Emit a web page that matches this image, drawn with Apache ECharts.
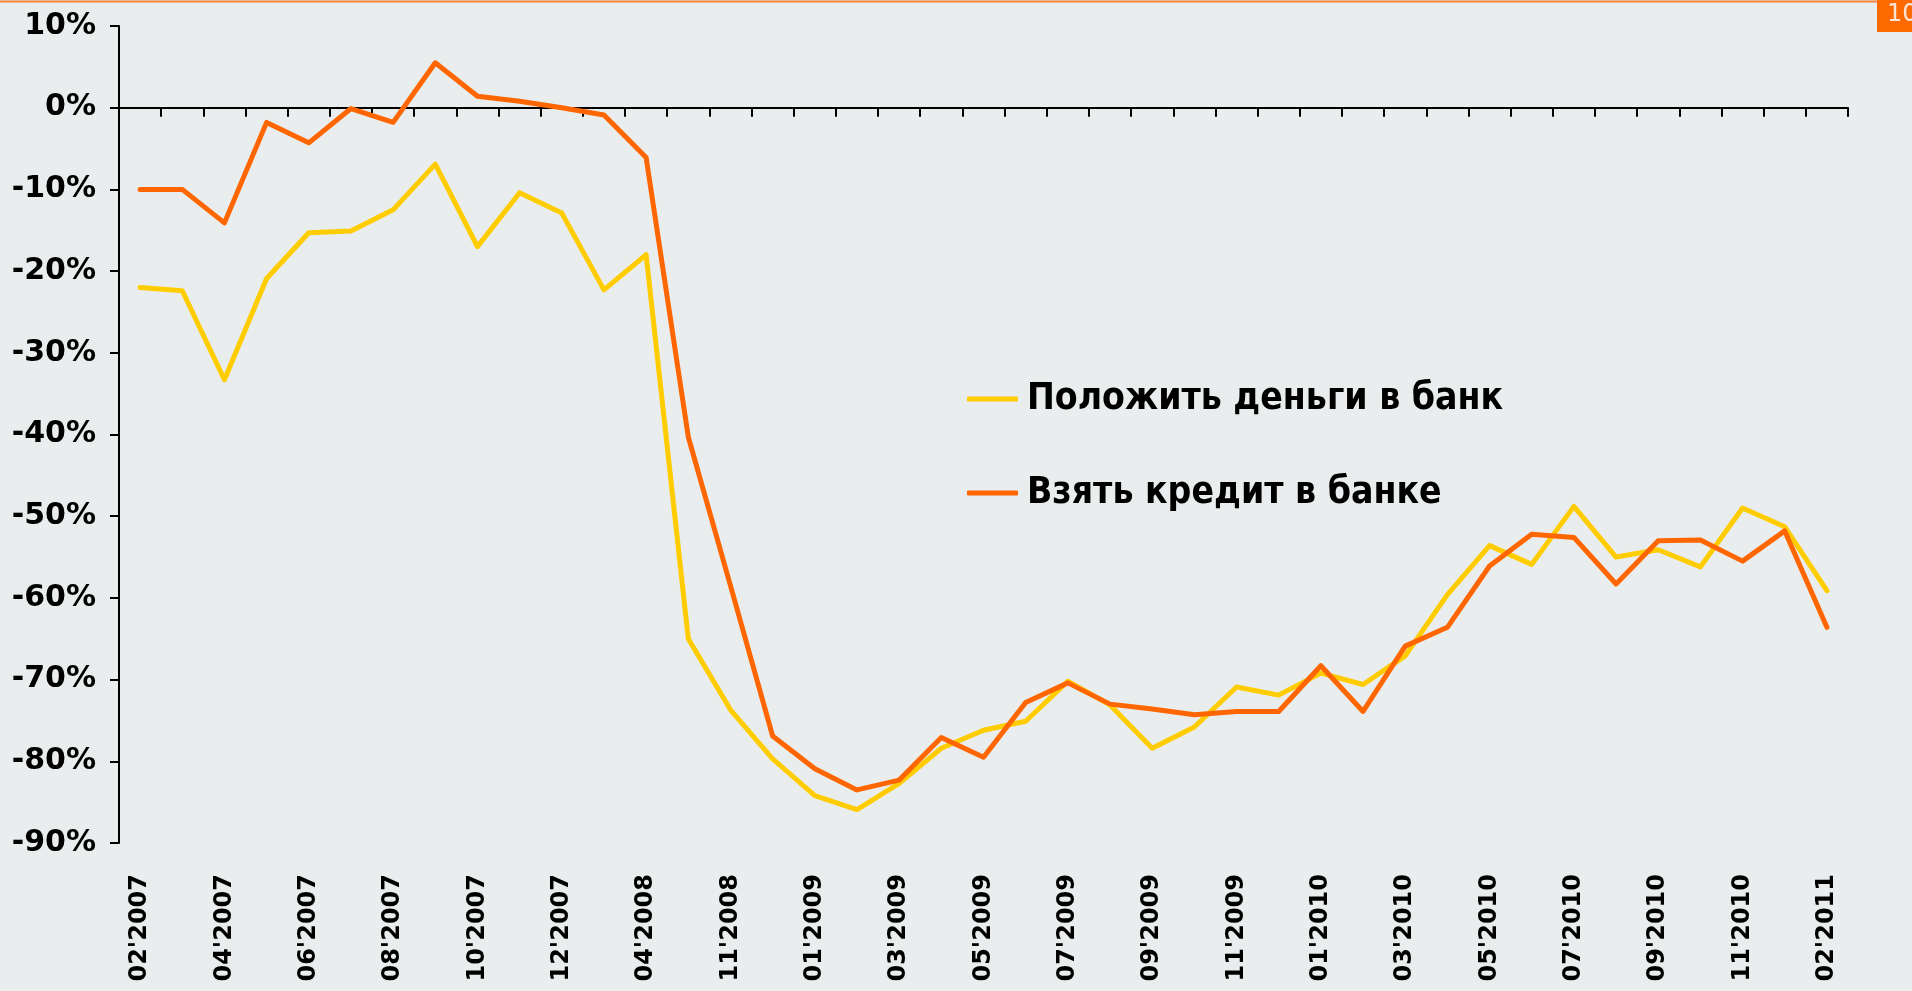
<!DOCTYPE html>
<html lang="ru">
<head>
    <meta charset="utf-8">
    <title>Положить деньги / взять кредит</title>
    <script src="https://cdn.jsdelivr.net/npm/echarts@6.0.0/dist/echarts.min.js"></script>
    <style type="text/css">
    html, body {
        margin: 0;
        padding: 0;
        background: #e9eded;
    }

    #chart {
        width: 1912px;
        height: 991px;
    }
    </style>
</head>
<body>
    <div id="chart"></div>
    <script type="text/javascript">
    // месяцы опроса (подписаны через один)
    var months = [
        "02'2007", "03'2007", "04'2007", "05'2007", "06'2007", "07'2007",
        "08'2007", "09'2007", "10'2007", "11'2007", "12'2007", "02'2008",
        "04'2008", "08'2008", "11'2008", "12'2008", "01'2009", "02'2009",
        "03'2009", "04'2009", "05'2009", "06'2009", "07'2009", "08'2009",
        "09'2009", "10'2009", "11'2009", "12'2009", "01'2010", "02'2010",
        "03'2010", "04'2010", "05'2010", "06'2010", "07'2010", "08'2010",
        "09'2010", "10'2010", "11'2010", "12'2010", "02'2011"
    ];

    var depositName = 'Положить деньги в банк';
    var creditName = 'Взять кредит в банке';

    // баланс ответов, %
    var deposit = [
        -22.0, -22.4, -33.3, -20.9, -15.3, -15.1, -12.5, -6.9, -17.0, -10.4,
        -12.9, -22.3, -18.0, -65.0, -73.7, -79.7, -84.2, -85.9, -82.7, -78.4,
        -76.2, -75.1, -70.2, -73.1, -78.4, -75.8, -70.9, -71.9, -69.2, -70.6,
        -67.1, -59.6, -53.6, -55.9, -48.8, -55.0, -54.1, -56.2, -49.0, -51.3,
        -59.1
    ];
    var credit = [
        -10.0, -10.0, -14.1, -1.8, -4.3, -0.1, -1.8, 5.5, 1.4, 0.8,
        0.0, -0.9, -6.1, -40.3, -58.5, -76.9, -80.9, -83.5, -82.3, -77.1,
        -79.5, -72.8, -70.4, -73.0, -73.6, -74.3, -73.9, -73.9, -68.3, -73.9,
        -65.9, -63.6, -56.1, -52.2, -52.6, -58.3, -53.0, -52.9, -55.5, -51.8,
        -63.6
    ];

    var yMin = -90, yMax = 10, yStep = 10;

    var chart = echarts.init(document.getElementById('chart'), null, { renderer: 'canvas' });

    var boldFont = {
        fontFamily: 'DejaVu Sans',
        fontWeight: 'bold',
        color: '#000'
    };

    chart.setOption({
        backgroundColor: '#e9eded',
        animation: false,
        grid: { left: 119, right: 64, top: 26, bottom: 148 },
        legend: {
            orient: 'vertical',
            left: 962,
            top: 372,
            itemWidth: 51,
            itemHeight: 5,
            itemGap: 50,
            icon: 'roundRect',
            data: [depositName, creditName],
            textStyle: {
                fontFamily: 'DejaVu Sans Condensed',
                fontWeight: 'bold',
                fontSize: 37,
                lineHeight: 44,
                color: '#000',
                padding: [0, 0, 0, 4]
            }
        },
        xAxis: [{
            // линия нуля с делениями
            type: 'category',
            data: months,
            boundaryGap: true,
            axisLine: { onZero: true, lineStyle: { color: '#000', width: 2 } },
            axisTick: { show: true, interval: 0, length: 9, lineStyle: { color: '#000', width: 2 } },
            axisLabel: { show: false },
            splitLine: { show: false }
        }, {
            // подписи внизу
            type: 'category',
            data: months,
            boundaryGap: true,
            position: 'bottom',
            axisLine: { show: false, onZero: false },
            axisTick: { show: false },
            axisLabel: Object.assign({
                rotate: 90,
                interval: 1,
                fontSize: 24,
                margin: 31
            }, boldFont),
            splitLine: { show: false }
        }],
        yAxis: {
            type: 'value',
            min: yMin,
            max: yMax,
            interval: yStep,
            axisLine: { show: true, lineStyle: { color: '#000', width: 2 } },
            axisTick: { show: true, length: 9, lineStyle: { color: '#000', width: 2 } },
            splitLine: { show: false },
            axisLabel: Object.assign({
                formatter: '{value}%',
                fontSize: 30,
                margin: 23
            }, boldFont)
        },
        series: [{
            name: depositName,
            type: 'line',
            data: deposit,
            symbol: 'none',
            itemStyle: { color: '#ffcc00' },
            lineStyle: { color: '#ffcc00', width: 5, cap: 'round', join: 'round' }
        }, {
            name: creditName,
            type: 'line',
            data: credit,
            symbol: 'none',
            itemStyle: { color: '#ff6600' },
            lineStyle: { color: '#ff6600', width: 5, cap: 'round', join: 'round' }
        }],
        graphic: [{
            type: 'line',
            shape: { x1: 0, y1: 1.5, x2: 1877, y2: 1.5 },
            style: { stroke: '#f7813a', lineWidth: 2 }
        }, {
            type: 'rect',
            shape: { x: 1877, y: 0, width: 35, height: 32 },
            style: { fill: '#ff6a00' }
        }, {
            type: 'text',
            left: 1887,
            top: 3,
            style: {
                text: '10',
                fill: '#fbe6d6',
                font: '24px "DejaVu Sans"'
            }
        }]
    });
    </script>
</body>
</html>
